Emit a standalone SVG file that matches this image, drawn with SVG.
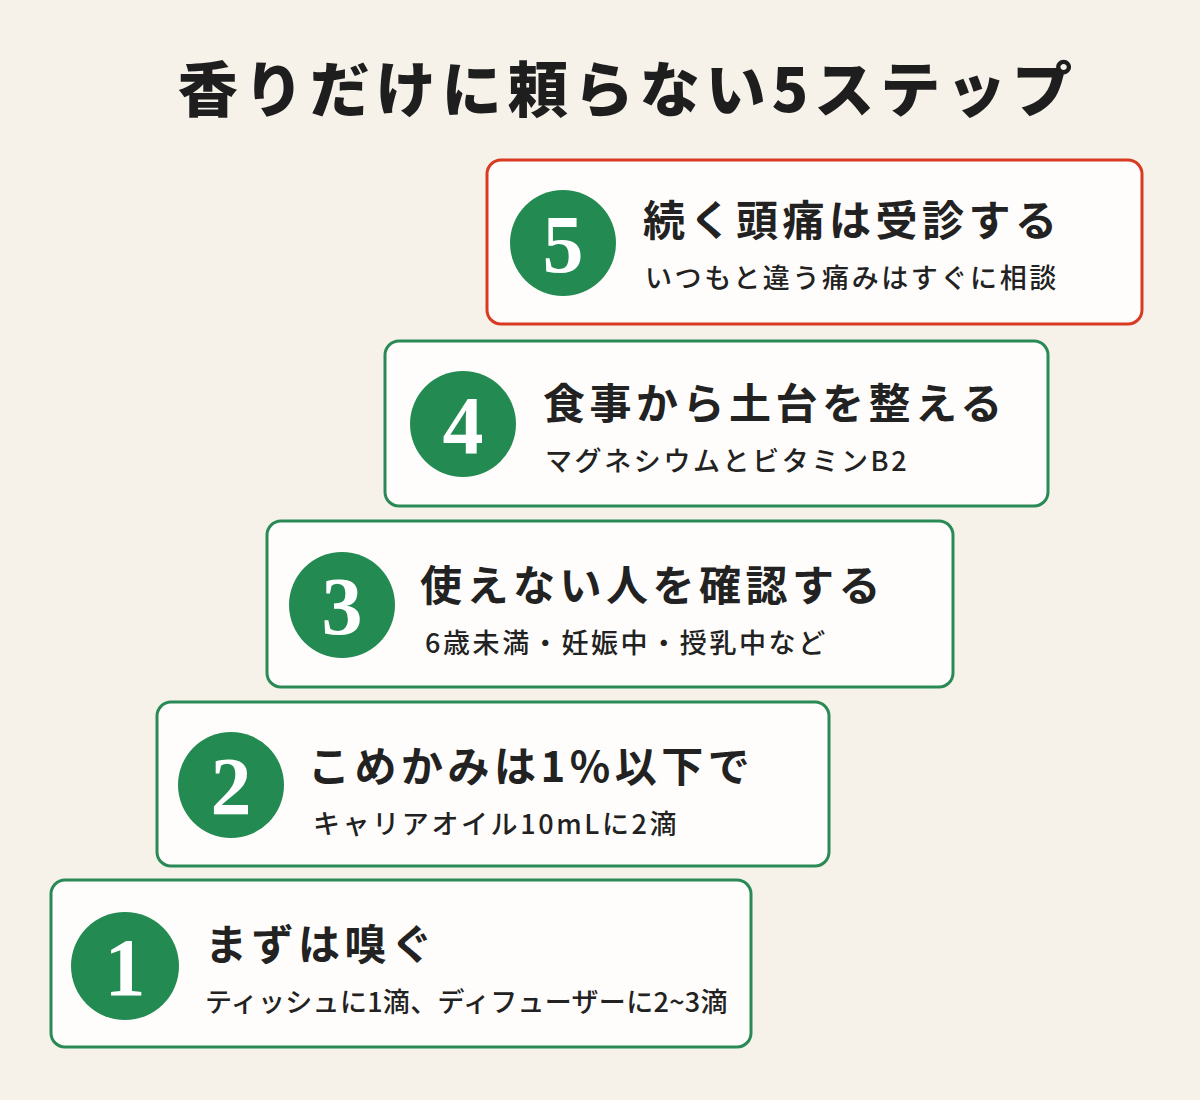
<svg xmlns="http://www.w3.org/2000/svg" width="1200" height="1100" viewBox="0 0 1200 1100">
<style>
.box{fill:#fefdfb;stroke:#2a8a56;stroke-width:3}
.red{stroke:#d83a22}
.c{fill:#238a52}
.n{font-family:"Liberation Serif",serif;font-weight:bold;font-size:82px;fill:#fff;text-anchor:middle}
.t{font-family:"Noto Sans CJK JP",sans-serif;font-weight:bold;font-size:42px;fill:#222;letter-spacing:4.5px}
.s{font-family:"Noto Sans CJK JP",sans-serif;font-weight:500;font-size:27px;fill:#222;letter-spacing:2.6px}
</style>
<rect width="1200" height="1100" fill="#f6f2ea"/>
<text x="628" y="112" text-anchor="middle" font-family="Noto Sans CJK JP,sans-serif" font-weight="900" font-size="60" letter-spacing="6" fill="#1e1e1e">香りだけに頼らない5ステップ</text>
<g id="step5"><rect class="box red" x="487" y="160" width="655" height="164" rx="14"/><circle class="c" cx="563" cy="243" r="53"/><text class="n" x="563" y="272">5</text><text class="t" x="643" y="236">続く頭痛は受診する</text><text class="s" x="645" y="288">いつもと違う痛みはすぐに相談</text></g>
<g id="step4"><rect class="box" x="385" y="341" width="663" height="165" rx="14"/><circle class="c" cx="463" cy="424" r="53"/><text class="n" x="463" y="453">4</text><text class="t" x="543" y="419">食事から土台を整える</text><text class="s" x="545" y="471">マグネシウムとビタミンB2</text></g>
<g id="step3"><rect class="box" x="267" y="521" width="686" height="166" rx="14"/><circle class="c" cx="342" cy="605" r="53"/><text class="n" x="342" y="634">3</text><text class="t" x="420" y="601">使えない人を確認する</text><text class="s" x="425" y="653">6歳未満・妊娠中・授乳中など</text></g>
<g id="step2"><rect class="box" x="157" y="702" width="672" height="164" rx="14"/><circle class="c" cx="231" cy="785" r="53"/><text class="n" x="231" y="814">2</text><text class="t" x="308" y="782">こめかみは1%以下で</text><text class="s" x="313" y="834">キャリアオイル10mLに2滴</text></g>
<g id="step1"><rect class="box" x="51" y="880" width="700" height="167" rx="14"/><circle class="c" cx="125" cy="966" r="54"/><text class="n" x="125" y="995">1</text><text class="t" x="205" y="960">まずは嗅ぐ</text><text class="s" x="205" y="1012" style="letter-spacing:0.3px">ティッシュに1滴、ディフューザーに2~3滴</text></g>
<g id="connectors"/>
</svg>
